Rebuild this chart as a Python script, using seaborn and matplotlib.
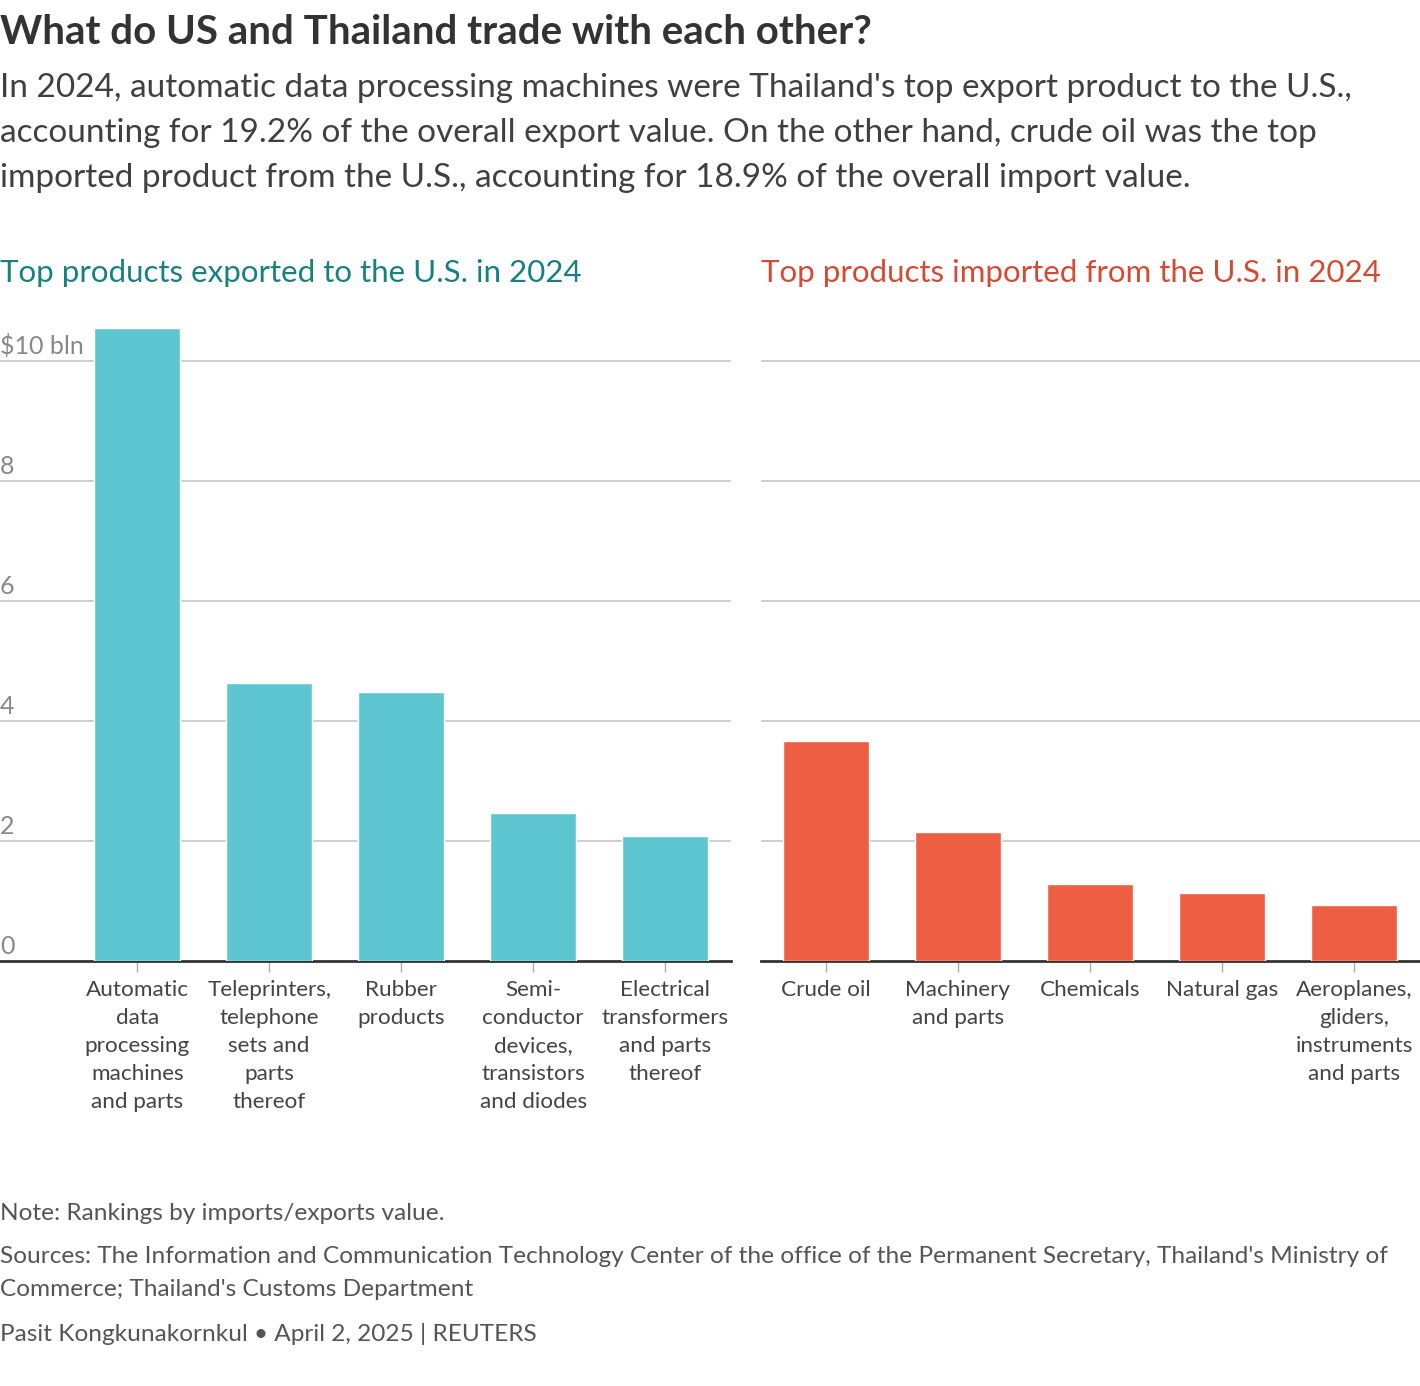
import matplotlib
matplotlib.use('Agg')
import matplotlib.pyplot as plt
import seaborn as sns
import pandas as pd

# Datos
export_products = ['Automatic\ndata\nprocessing\nmachines\nand parts',
                   'Teleprinters,\ntelephone\nsets and\nparts\nthereof',
                   'Rubber\nproducts',
                   'Semi-\nconductor\ndevices,\ntransistors\nand diodes',
                   'Electrical\ntransformers\nand parts\nthereof']
export_values = [10.55, 4.63, 4.48, 2.47, 2.08]

import_products = ['Crude oil', 'Machinery\nand parts', 'Chemicals', 'Natural gas',
                   'Aeroplanes,\ngliders,\ninstruments\nand parts']
import_values = [3.67, 2.15, 1.28, 1.13, 0.93]

y_ticks = [0, 2, 4, 6, 8, 10]
y_tick_labels = ['0', '2', '4', '6', '8', '$10 bln']

sns.set_theme(style='white')
plt.rcParams['font.family'] = ['Lato', 'DejaVu Sans']

W, H = 1420, 1386
fig = plt.figure(figsize=(W / 100, H / 100), dpi=100)

def box(x0, y0, x1, y1):
    return [x0 / W, 1 - y1 / H, (x1 - x0) / W, (y1 - y0) / H]

ymax = 10.6
ax1 = fig.add_axes(box(0, 961 - ymax * 60, 731, 961))
ax2 = fig.add_axes(box(761, 961 - ymax * 60, 1420, 961))

df_exp = pd.DataFrame({'product': export_products, 'value': export_values})
df_imp = pd.DataFrame({'product': import_products, 'value': import_values})

sns.barplot(data=df_exp, x='product', y='value', color='#5DC6D1', saturation=1,
            width=0.65, ax=ax1, zorder=3)
sns.barplot(data=df_imp, x='product', y='value', color='#EE5E42', saturation=1,
            width=0.65, ax=ax2, zorder=3)

for ax, left in [(ax1, -1.04), (ax2, -0.49)]:
    ax.set_xlim(left, 4.5)
    ax.set_ylim(0, ymax)
    ax.set_xlabel('')
    ax.set_ylabel('')
    for s in ['top', 'right', 'left']:
        ax.spines[s].set_visible(False)
    ax.spines['bottom'].set_color('#333333')
    ax.spines['bottom'].set_linewidth(2)
    for t in y_ticks[1:]:
        ax.axhline(t, color='#cccccc', lw=1.3, zorder=1)
    ax.set_yticks([])
    ax.tick_params(axis='x', bottom=True, length=8, width=1, color='#aaaaaa',
                   labelsize=16.2, labelcolor='#444444', pad=6)
    for lab in ax.get_xticklabels():
        lab.set_linespacing(1.5)

# etiquetas del eje y dentro del panel izquierdo
for t, lab in zip(y_ticks, y_tick_labels):
    ax1.text(-1.04, t + 0.05, lab, ha='left', va='bottom', fontsize=18,
             color='#888888', zorder=4)

fig.text(0, 1 - 32 / H, 'What do US and Thailand trade with each other?',
         fontsize=29, fontweight='bold', color='#333333', va='center')
fig.text(0, 1 - 133 / H,
         "In 2024, automatic data processing machines were Thailand's top export product to the U.S.,\n"
         "accounting for 19.2% of the overall export value. On the other hand, crude oil was the top\n"
         "imported product from the U.S., accounting for 18.9% of the overall import value.",
         fontsize=24, color='#404040', va='center', linespacing=1.62)
fig.text(0, 1 - 273 / H, 'Top products exported to the U.S. in 2024',
         fontsize=22.5, color='#16817F', va='center')
fig.text(761 / W, 1 - 273 / H, 'Top products imported from the U.S. in 2024',
         fontsize=22.5, color='#D44A33', va='center')

fig.text(0, 1 - 1214 / H, 'Note: Rankings by imports/exports value.',
         fontsize=17.6, color='#555555', va='center')
fig.text(0, 1 - 1273 / H,
         "Sources: The Information and Communication Technology Center of the office of the Permanent Secretary, Thailand's Ministry of\n"
         "Commerce; Thailand's Customs Department",
         fontsize=17.6, color='#555555', va='center', linespacing=1.75)
fig.text(0, 1 - 1334 / H, 'Pasit Kongkunakornkul \u2022 April 2, 2025 | REUTERS',
         fontsize=17.6, color='#555555', va='center')

fig.savefig('out.png', dpi=100, facecolor='white')
